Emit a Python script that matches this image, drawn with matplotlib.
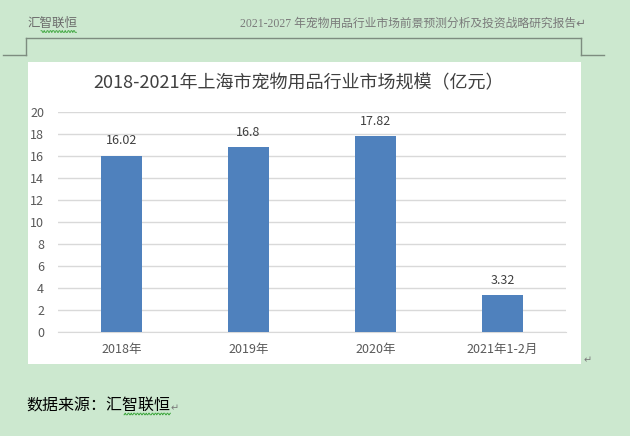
import numpy as np
import matplotlib
matplotlib.use('Agg')
import matplotlib.pyplot as plt
from matplotlib.patches import Rectangle

plt.rcParams['font.family'] = ['Noto Sans CJK SC', 'DejaVu Sans']

# data
categories = ['2018年', '2019年', '2020年', '2021年1-2月']
values = [16.02, 16.8, 17.82, 3.32]
value_labels = ['16.02', '16.8', '17.82', '3.32']
y_ticks = [0, 2, 4, 6, 8, 10, 12, 14, 16, 18, 20]

title = '2018-2021年上海市宠物用品行业市场规模（亿元）'
header_left = '汇智联恒'
header_right = '2021-2027 年宠物用品行业市场前景预测分析及投资战略研究报告↵'
footer = '数据来源：汇智联恒'

page_bg = '#cce8cf'
bar_color = '#4f81bd'
grid_color = '#d9d9d9'
text_grey = '#595959'

W, H = 630, 436
fig = plt.figure(figsize=(W / 100, H / 100), dpi=100)
fig.patch.set_facecolor(page_bg)

# overlay axes in pixel coordinates for the page decoration
deco = fig.add_axes([0, 0, 1, 1], zorder=0)
deco.set_xlim(0, W)
deco.set_ylim(H, 0)
deco.axis('off')

# white chart box
deco.add_patch(Rectangle((28, 62), 553, 302, facecolor='white', edgecolor='none'))

# header corner lines
line_c = '#7d8c7f'
deco.plot([26, 581], [38.5, 38.5], color=line_c, lw=1)
deco.plot([26, 26], [38.5, 55], color=line_c, lw=1)
deco.plot([3, 26], [55, 55], color=line_c, lw=1)
deco.plot([581, 581], [38.5, 55], color=line_c, lw=1)
deco.plot([581, 604], [55, 55], color=line_c, lw=1)

# header texts
deco.text(27, 23, header_left, fontsize=9, color='#6b6b6b', va='center', ha='left')
deco.text(586, 24, header_right, fontsize=8.5, color='#7a7a7a', va='center', ha='right',
          family=['Liberation Serif', 'Noto Sans CJK SC', 'DejaVu Sans'])

# green spelling squiggle under header name and footer name
def squiggle(x0, x1, y, amp=1.0):
    xs = np.arange(x0, x1, 0.5)
    ys = y + amp * np.sign(np.sin(xs * np.pi / 1.5)) * 0.8
    deco.plot(xs, ys, color='#3aa53a', lw=0.6)

squiggle(41, 77, 31.5)

# title
deco.text(299, 83, title, fontsize=13, color='#404040', ha='center', va='center')

# footer
ft = deco.text(26, 406, footer, fontsize=11.5, color='black', ha='left', va='center')
deco.text(171, 408, '↵', fontsize=7, color='#7a7a7a', ha='left', va='center',
          family=['DejaVu Sans'])
squiggle(124, 171, 414)

# paragraph mark near chart
deco.text(584, 360, '↵', fontsize=7, color='#7a7a7a', ha='left', va='center',
          family=['DejaVu Sans'])

# main chart axes
left, right, top, bottom = 58, 566, 112, 332
ax = fig.add_axes([left / W, 1 - bottom / H, (right - left) / W, (bottom - top) / H], zorder=1)
ax.set_facecolor('none')

x = np.arange(len(categories))
bars = ax.bar(x, values, width=0.315, color=bar_color, zorder=3)

for xi, v, lab in zip(x, values, value_labels):
    ax.annotate(lab, (xi, v), xytext=(0, 6), textcoords='offset points',
                ha='center', va='bottom', fontsize=9, color='#404040')

ax.set_xlim(-0.5, len(categories) - 0.5)
ax.set_ylim(0, 20)
ax.set_yticks(y_ticks)
ax.set_xticks(x)
ax.set_xticklabels(categories)
ax.yaxis.grid(True, color=grid_color, lw=1, zorder=0)
ax.set_axisbelow(True)
for s in ['top', 'right', 'left']:
    ax.spines[s].set_visible(False)
ax.spines['bottom'].set_color(grid_color)
ax.tick_params(axis='both', length=0, labelsize=9, colors=text_grey)
ax.tick_params(axis='x', pad=8)
ax.tick_params(axis='y', pad=10)

fig.savefig('out.png', dpi=100, facecolor=page_bg)
